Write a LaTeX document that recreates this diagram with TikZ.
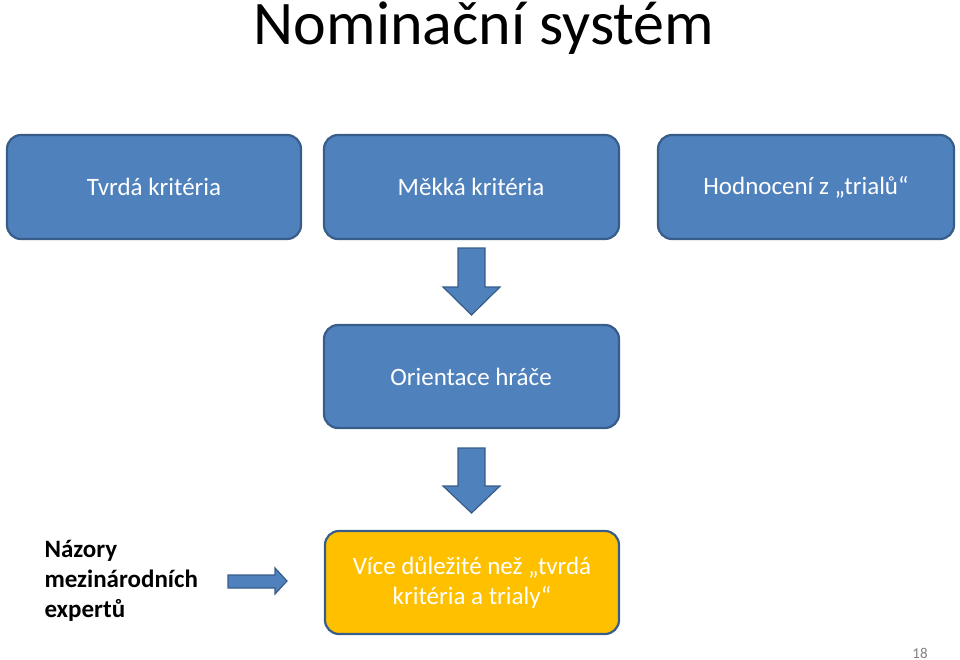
\documentclass[tikz,border=0pt]{standalone}
\usepackage{fontspec}
\setmainfont{Carlito}
\begin{document}
\begin{tikzpicture}[x=1pt,y=-1pt,
  box/.style={draw=boxborder,line width=2.2pt,fill=boxfill,rounded corners=14pt},
  ytbox/.style={draw=boxborder,line width=2.2pt,fill=yellowfill,rounded corners=14pt},
  arr/.style={draw=boxborder,line width=1.2pt,fill=boxfill,line join=miter},
  btext/.style={text=white,font=\fontsize{25}{30}\selectfont,align=center}]
\definecolor{boxfill}{HTML}{4F81BD}
\definecolor{boxborder}{HTML}{385D8A}
\definecolor{yellowfill}{HTML}{FFC000}
\useasboundingbox (0,0) rectangle (960,660);
\node[font=\fontsize{62}{66}\selectfont,anchor=base,inner sep=0pt] (title) at (484,45) {Nominační systém};
\path[box] (7,135) rectangle (301,239);
\node[btext] (t1) at (154,187) {Tvrdá kritéria};
\path[box] (324,135) rectangle (619,239);
\node[btext] (t2) at (471,187) {Měkká kritéria};
\path[box] (658,135) rectangle (954,239);
\node[btext] (t3) at (806,187) {Hodnocení z „trialů“};
\path[box] (324,325) rectangle (619,428);
\node[btext] (t4) at (471,377) {Orientace hráče};
\path[ytbox] (325,531) rectangle (619,634);
\node[btext] (t5) at (472,583) {Více důležité než „tvrdá\\kritéria a trialy“};
\path[arr] (458,248) -- (485,248) -- (485,287) -- (500,287) -- (471.5,315) -- (443,287) -- (458,287) -- cycle;
\path[arr] (458,448) -- (485,448) -- (485,486) -- (500,486) -- (471.5,513) -- (443,486) -- (458,486) -- cycle;
\path[arr] (228,575) -- (275,575) -- (275,568) -- (287,581) -- (275,594) -- (275,588) -- (228,588) -- cycle;
\node[font=\bfseries\fontsize{25}{30}\selectfont,align=left,anchor=north west] (experts) at (41,537) {Názory\\mezinárodních\\expertů};
\node[text=gray,font=\fontsize{15}{16}\selectfont] (pg) at (920,653) {18};
\end{tikzpicture}
\end{document}
